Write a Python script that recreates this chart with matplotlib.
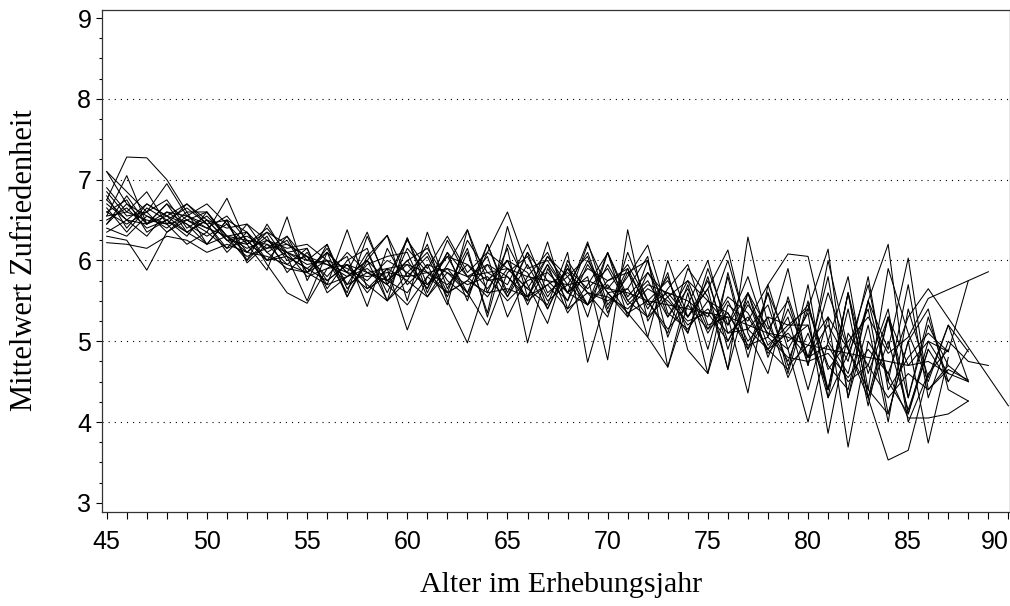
import matplotlib.pyplot as plt
import numpy as np

nan = np.nan

# age of the respondents, 45 ... 90
ages = list(range(45, 91))

# mean satisfaction per age, one list per group (starting at age 45)
line_a = [6.75, 7.28, 7.27, 7.0, 6.6, 6.6, 6.3, 6.0, 6.45, 6.05,
          5.5, 6.1, 5.85, 6.35, 5.7, 6.28, 5.6, 6.1, 5.5, 6.2,
          5.6, 6.1, 5.4, 5.95, 5.3, 6.1, 5.3, 6.0, 5.05, 5.7,
          4.9, 5.8, 4.8, 5.6, 4.6, 5.5, 4.4, 5.4, 4.2, 5.3,
          4.3, 5.3, 4.5, 4.9]
line_b = [7.1, 6.7, 6.45, 6.55, 6.35, 6.5, 6.25, 6.3, 6.15, 6.2,
          6.05, 5.95, 5.8, 6.0, 5.75, 5.95, 5.65, 6.1, 5.8, 5.95,
          5.55, 6.1, 5.75, 5.5, 6.0, 5.6, 5.3, 5.85, 5.45, 5.1,
          5.9, 5.2, 5.6, 4.8, 5.4, 4.8, 5.8, 4.3, 5.5, 4.5,
          5.7, 4.3, 5.0, 4.75, 4.7]
line_c = [6.55, 7.05, 6.45, 6.7, 6.5, 6.35, 6.77, 6.2, 5.88, 6.54,
          5.75, 6.2, 5.55, 6.05, 6.31, 5.5, 6.35, 5.65, 6.15, 5.3,
          6.2, 5.7, 5.22, 6.0, 5.6, 5.3, 6.1, 5.5, 5.1, 5.9,
          5.55, 4.65, 6.29, 5.2, 4.75, 5.4, 6.14, 4.3, 5.2, 4.0,
          5.4, 4.55, 5.2, 4.5]
line_d = [6.3, 6.25, 5.88, 6.35, 6.55, 6.45, 6.1, 6.35, 5.95, 5.6,
          5.47, 5.9, 6.05, 5.43, 6.15, 5.7, 5.95, 5.45, 6.38, 5.75,
          6.0, 5.5, 6.23, 5.4, 5.95, 5.6, 5.35, 5.05, 6.0, 5.3,
          5.75, 5.0, 5.45, 5.1, 4.9, 4.0, 5.0, 5.8, 4.4, 4.1,
          5.0, 5.4, 4.4, 4.26]
line_e = [6.22, 6.2, 6.15, 6.3, 6.25, 6.1, 6.2, 6.1, 6.05, 5.95,
          5.85, 5.7, 5.8, 5.9, 5.7, 5.45, 5.8, 5.6, 5.75, 5.6,
          5.65, 5.55, 5.7, 5.4, 5.6, 5.5, 5.65, 5.3, 5.55, 5.2,
          5.4, 5.1, 5.3, 4.9, 5.1, 4.8, 4.95, 4.5, 4.7, 4.3,
          4.6, 4.4, 4.65, 4.52]
line_f = [6.9, 6.6, 6.85, 6.45, 6.7, 6.5, 6.4, 6.45, 6.25, 6.15,
          6.2, 6.0, 5.7, 5.85, 5.9, 5.95, 5.85, 5.7, 5.95, 5.75,
          5.8, 5.55, 6.05, 5.7, 5.45, 5.95, 5.5, 5.75, 5.3, 5.65,
          5.1, 5.5, 5.0, 5.3, 5.2, 5.2, 4.4, 5.6, 4.3, 5.0,
          4.15, 4.9, 4.5]
line_g = [6.6, 6.45, 6.6, 6.75, 6.4, 6.55, 6.3, 6.15, 6.25, 6.05,
          5.9, 6.1, 5.85, 5.65, 5.8, 6.25, 5.9, 6.3, 5.85, 6.1,
          6.6, 5.9, 6.0, 5.6, 5.9, 5.75, 5.85, 5.45, 5.6, 5.5,
          5.3, 6.0, 5.15, 4.9, 5.3, 4.4, 5.3, 4.9, 5.7, 4.5,
          4.1, 4.9]
line_h = [6.45, 6.7, 6.55, 6.4, 6.6, 6.2, 6.5, 5.97, 6.2, 5.95,
          6.15, 5.65, 6.0, 6.15, 5.5, 5.75, 6.2, 5.5, 4.98, 5.75,
          6.0, 5.45, 5.95, 5.6, 6.23, 5.45, 5.8, 6.19, 5.35, 5.15,
          5.5, 5.35, 4.9, 5.6, 5.0, 5.2, 4.3, 4.85, 5.4, 4.1,
          5.0, 3.74, 4.8]
line_i = [6.65, 6.35, 6.65, 6.5, 6.3, 6.6, 6.3, 6.1, 6.35, 6.0,
          6.05, 5.7, 6.38, 5.65, 5.9, 5.14, 5.8, 6.05, 5.6, 5.2,
          5.85, 6.05, 5.55, 5.9, 5.45, 5.75, 5.9, 5.05, 4.68, 5.6,
          4.6, 5.85, 4.9, 5.3, 4.55, 5.1, 4.4, 5.6, 4.3, 5.3,
          4.7, 5.0, 4.87, 5.75]
line_j = [6.7, 6.5, 6.45, 6.6, 6.55, 6.4, 6.55, 6.25, 6.0, 6.3,
          6.0, 6.2, 5.65, 5.95, 6.05, 6.1, 5.55, 5.95, 6.38, 5.6,
          6.15, 4.98, 5.9, 5.5, 6.2, 5.65, 5.95, 5.5, 5.75, 5.3,
          5.65, 4.65, 5.6, 4.95, 5.2, 5.4, 4.7, 4.4, 5.5, 4.9,
          6.03, 4.4, 4.7, 4.5]
line_k = [6.5, 6.65, 6.4, 6.5, 6.65, 6.45, 6.15, 6.45, 6.1, 5.9,
          5.85, 6.1, 5.55, 6.0, 5.5, 5.85, 6.1, 5.6, 5.75, 6.05,
          5.3, 5.8, 6.1, 5.6, 5.8, 4.77, 6.38, 5.25, 5.65, 5.95,
          5.2, 5.3, 4.36, 5.7, 4.9, 5.35, 3.86, 5.1, 4.7, 5.4,
          4.0, 4.6]
line_l = [6.85, 6.55, 6.6, 6.35, 6.5, 6.6, 6.25, 6.2, 6.4, 6.1,
          5.95, 6.0, 5.6, 6.3, 5.75, 6.0, 5.65, 6.25, 5.8, 5.55,
          5.9, 5.65, 5.45, 6.1, 4.74, 5.6, 5.65, 6.05, 4.68, 5.45,
          6.0, 5.1, 5.15, 5.45, 4.7, 4.95, 5.3, 3.69, 5.0, 4.6,
          5.3, 5.65, nan, nan, nan, 4.2]
line_m = [6.4, 6.3, 6.55, 6.45, 6.2, 6.35, 6.15, 6.25, 6.0, 6.1,
          5.8, 5.9, 5.95, 5.6, 5.9, 5.75, 5.55, 5.85, 5.6, 5.95,
          5.8, 5.5, 5.7, 5.85, 5.6, 5.55, 5.4, 5.65, 5.5, 5.25,
          5.35, 5.0, 5.5, 4.85, 5.15, 5.45, 4.65, 5.0, 5.3, 4.85,
          5.05, 5.53, nan, nan, 5.86]
line_n = [6.6, 6.75, 6.35, 6.5, 6.35, 6.2, 6.5, 6.0, 6.25, 6.1,
          6.15, 5.6, 5.8, 6.0, 6.31, 5.8, 6.05, 5.55, 6.1, 5.35,
          6.42, 5.55, 5.95, 5.35, 5.7, 6.09, 5.5, 5.3, 5.85, 4.89,
          4.6, 5.45, 5.25, 5.7, 6.08, 6.05, 5.0, 4.6, 5.5, 6.2,
          4.3, 5.2, 4.7]
line_o = [6.35, 6.5, 6.3, 6.6, 6.45, 6.2, 6.3, 6.35, 6.0, 6.05,
          5.9, 5.75, 5.95, 5.85, 5.75, 5.6, 5.95, 5.85, 5.7, 5.8,
          5.5, 5.75, 5.85, 5.6, 5.45, 5.7, 5.35, 5.5, 5.15, 5.45,
          5.15, 5.35, 4.95, 5.05, 4.8, 4.75, 4.85, 4.55, 4.9, 4.6,
          4.05, 4.05, 4.1, 4.26]
line_p = [6.8, 6.4, 6.7, 6.55, 6.45, 6.3, 6.45, 6.1, 6.3, 5.85,
          6.1, 5.75, 5.95, 5.7, 5.5, 6.28, 5.7, 5.9, 5.6, 6.2,
          5.55, 5.95, 5.5, 5.7, 6.1, 5.4, 5.9, 5.4, 5.8, 5.1,
          5.8, 4.9, 5.6, 5.15, 5.5, 4.7, 5.6, 4.9, 4.3, 3.53,
          3.65, 4.6, 4.9]
line_q = [6.55, 6.6, 6.5, 6.45, 6.5, 6.4, 6.3, 6.25, 6.2, 6.1,
          6.0, 5.95, 5.85, 5.8, 5.85, 5.8, 5.85, 5.9, 5.8, 5.85,
          5.9, 5.8, 5.75, 5.7, 5.75, 5.65, 5.6, 5.5, 5.45, 5.4,
          5.35, 5.3, 5.2, 5.1, 5.05, 4.95, 4.9, 4.85, 4.8, 4.75,
          4.7, 4.75, 4.6, 4.5]
line_r = [6.75, 6.5, 6.7, 6.55, 6.7, 6.45, 6.5, 6.35, 6.1, 6.25,
          5.85, 6.0, 5.9, 5.75, 6.0, 5.85, 5.7, 6.05, 5.95, 5.65,
          6.0, 5.85, 5.4, 5.9, 5.65, 5.9, 5.45, 5.7, 5.6, 5.3,
          5.65, 6.13, 5.1, 4.6, 5.55, 4.8, 5.2, 4.75, 5.8, 4.4,
          4.8, 5.1, 4.87]
line_s = [6.45, 6.8, 6.45, 6.7, 6.35, 6.5, 6.25, 6.05, 6.15, 6.3,
          5.85, 6.15, 5.7, 6.1, 5.6, 6.15, 5.85, 5.6, 6.25, 5.85,
          5.7, 6.2, 5.6, 5.8, 6.05, 5.35, 5.85, 6.0, 5.3, 5.75,
          5.15, 5.55, 5.35, 4.9, 4.65, 5.7, 4.3, 5.6, 4.6, 5.3,
          4.1, 5.0, 4.6]
line_t = [7.1, 6.85, 6.6, 6.95, 6.55, 6.7, 6.45, 6.2, 6.35, 6.2,
          6.05, 5.8, 6.1, 5.85, 5.7, 6.0, 6.15, 5.75, 5.55, 6.1,
          5.9, 5.65, 6.05, 5.8, 5.45, 6.1, 5.55, 5.85, 5.55, 5.75,
          5.5, 5.2, 5.8, 5.05, 5.9, 4.7, 6.0, 4.9, 4.4, 5.9,
          5.1, 4.5, 5.2, 4.87]

groups = [line_a, line_b, line_c, line_d, line_e, line_f, line_g,
          line_h, line_i, line_j, line_k, line_l, line_m, line_n,
          line_o, line_p, line_q, line_r, line_s, line_t]

fig = plt.figure(figsize=(10.1, 6.06), dpi=100)
ax = fig.add_axes([0.1007, 0.1556, 0.8993, 0.8279])

# dotted reference lines
for yy in [4, 5, 6, 7, 8]:
    ax.axhline(yy, color='black', lw=0.8, ls=(0, (1, 4.5)), zorder=1)

for vals in groups:
    y = np.array(vals, dtype=float)
    x = np.array(ages[:len(y)])
    ok = ~np.isnan(y)
    ax.plot(x[ok], y[ok], color='black', lw=0.75, zorder=2)

ax.set_xlim(44.75, 90.08)
ax.set_ylim(2.89, 9.1)
ax.set_xticks(np.arange(45, 91, 5))
ax.set_xticks(np.arange(45, 91, 1), minor=True)
ax.set_yticks(np.arange(3, 10, 1))
ax.set_yticks(np.arange(3, 9.01, 0.25), minor=True)

ax.tick_params(axis='x', which='both', direction='out', length=5, width=0.8,
               labelsize=18, pad=8)
ax.tick_params(axis='y', which='major', direction='out', length=4.5, width=0.8,
               labelsize=18, pad=3)
ax.tick_params(axis='y', which='minor', direction='out', length=2.5, width=0.8)
for lab in ax.get_xticklabels() + ax.get_yticklabels():
    lab.set_family('Liberation Sans')
# the last label sits left of its tick so it stays inside the picture
ax.get_xticklabels()[-1].set_horizontalalignment('right')

for sp in ax.spines.values():
    sp.set_linewidth(0.9)
    sp.set_color('#333333')

fig.text(0.5554, 0.035, 'Alter im Erhebungsjahr', family='Liberation Serif',
         fontsize=21.5, ha='center', va='center')
fig.text(0.024, 0.571, 'Mittelwert Zufriedenheit', family='Liberation Serif',
         fontsize=22, ha='center', va='center', rotation=90)

plt.savefig('out.png', dpi=100)
